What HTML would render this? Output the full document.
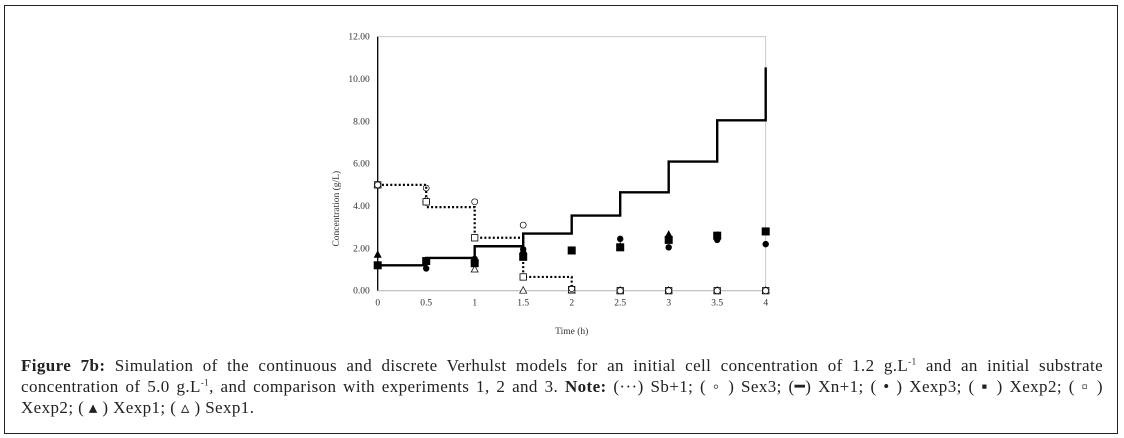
<!DOCTYPE html>
<html><head><meta charset="utf-8">
<style>
html,body{margin:0;padding:0;background:#fff;}
body{width:1124px;height:438px;position:relative;overflow:hidden;font-family:"Liberation Serif",serif;}
#frame{position:absolute;left:4px;top:5px;width:1112px;height:427px;border:1.5px solid #222;}
#chart{position:absolute;left:0;top:0;}
#caption{position:absolute;left:21px;top:355px;width:1082px;font-size:17px;letter-spacing:0.4px;line-height:21px;color:#222;}
#caption div{white-space:nowrap;}
#caption .j{text-align:justify;text-align-last:justify;white-space:normal;}
#caption b{font-weight:bold;}
sup{font-size:9px;line-height:0;}
</style></head>
<body>
<div id="frame"></div>
<svg id="chart" width="1124" height="340"></svg>
<div id="caption">
<div class="j"><b>Figure 7b:</b> Simulation of the continuous and discrete Verhulst models for an initial cell concentration of 1.2 g.L<sup>-1</sup> and an initial substrate</div>
<div class="j">concentration of 5.0 g.L<sup>-1</sup>, and comparison with experiments 1, 2 and 3. <b>Note:</b> (···) Sb+1; ( ◦ ) Sex3; (━) Xn+1; ( • ) Xexp3; ( ▪ ) Xexp2; ( ▫ )</div>
<div>Xexp2; ( ▴ ) Xexp1; ( ▵ ) Sexp1.</div>
</div>
<script>
const times=[0,0.5,1,1.5,2,2.5,3,3.5,4];
const xTickLabels=["0","0.5","1","1.5","2","2.5","3","3.5","4"];
const yTicks=[0,2,4,6,8,10,12];
const yTickLabels=["0.00","2.00","4.00","6.00","8.00","10.00","12.00"];
const xn1=[1.2,1.55,2.1,2.7,3.55,4.65,6.1,8.05,10.55];
const sb1=[5.0,3.95,2.5,0.65,0.05];
const sex3=[5.0,4.85,4.2,3.1,0.1,0,0,0,0];
const xexp3=[1.2,1.05,1.5,1.95,1.9,2.45,2.05,2.4,2.2];
const xexp2=[1.2,1.4,1.3,1.6,1.9,2.05,2.4,2.6,2.8];
const sexp2=[5.0,4.2,2.5,0.65,0.05,0,0,0,0];
const xexp1=[1.7,1.4,1.45,1.9,1.9,2.1,2.65,2.6,2.8];
const sexp1=[5.0,4.3,1.0,0,0,0,0,0,0];
const NS="http://www.w3.org/2000/svg";
const svg=document.getElementById('chart');
const X0=377.7,X1=765.7,Y0=290.7,Y1=36.7;
const xs=t=>X0+(X1-X0)*t/4;
const ys=v=>Y0-(Y0-Y1)*v/12;
function el(tag,attrs,name){const e=document.createElementNS(NS,tag);for(const k in attrs)e.setAttribute(k,attrs[k]);svg.appendChild(e);return e;}
el('rect',{x:X0,y:Y1,width:X1-X0,height:Y0-Y1,fill:'none',stroke:'#bbb','stroke-width':0.8},'plot-area');
el('line',{x1:X0,y1:Y1,x2:X0,y2:Y0,stroke:'#000','stroke-width':1.3},'y-axis');
el('line',{x1:X0,y1:Y0,x2:X1,y2:Y0,stroke:'#bbb','stroke-width':1},'x-axis');
yTicks.forEach((v,i)=>{const t=el('text',{x:X0-8,y:ys(v)+3,'text-anchor':'end','font-size':'9.5','fill':'#333','font-family':'Liberation Serif,serif'},'y-tick-label');t.textContent=yTickLabels[i];});
times.forEach((v,i)=>{const t=el('text',{x:xs(v),y:Y0+15,'text-anchor':'middle','font-size':'9.5','fill':'#333','font-family':'Liberation Serif,serif'},'x-tick-label');t.textContent=xTickLabels[i];});
let xt=el('text',{x:(X0+X1)/2,y:334,'text-anchor':'middle','font-size':'9.5','fill':'#333','font-family':'Liberation Serif,serif'},'x-axis-title');xt.textContent='Time (h)';
let yt=el('text',{x:0,y:0,'text-anchor':'middle','font-size':'9.5','fill':'#333','font-family':'Liberation Serif,serif',transform:`translate(339,${(Y0+Y1)/2+45}) rotate(-90)`},'y-axis-title');yt.textContent='Concentration (g/L)';
function stepPath(vals){let d=`M${xs(0)},${ys(vals[0])}`;for(let i=0;i<vals.length-1;i++){d+=` L${xs(times[i+1])},${ys(vals[i])} L${xs(times[i+1])},${ys(vals[i+1])}`;}return d;}
el('path',{d:stepPath(sb1),fill:'none',stroke:'#000','stroke-width':2.2,'stroke-dasharray':'2,2.2'},'sb1-dotted-line');
el('path',{d:stepPath(xn1),fill:'none',stroke:'#000','stroke-width':2.4},'xn1-line');
times.forEach((t,i)=>{const cx=xs(t);
 el('polygon',{points:`${cx},${ys(sexp1[i])-4} ${cx-3.5},${ys(sexp1[i])+2.5} ${cx+3.5},${ys(sexp1[i])+2.5}`,fill:'#fff',stroke:'#000','stroke-width':0.7},'sexp1-point');
 el('rect',{x:cx-3.2,y:ys(sexp2[i])-3.2,width:6.4,height:6.4,fill:'#fff',stroke:'#000','stroke-width':0.8},'sexp2-point');
 el('circle',{cx:cx,cy:ys(sex3[i]),r:3,fill:'none',stroke:'#000','stroke-width':0.7},'sex3-point');
 el('polygon',{points:`${cx},${ys(xexp1[i])-4.5} ${cx-4},${ys(xexp1[i])+3} ${cx+4},${ys(xexp1[i])+3}`,fill:'#000'},'xexp1-point');
 el('rect',{x:cx-4,y:ys(xexp2[i])-4,width:8,height:8,fill:'#000'},'xexp2-point');
 el('circle',{cx:cx,cy:ys(xexp3[i]),r:3.2,fill:'#000'},'xexp3-point');
});
</script>
</body></html>
